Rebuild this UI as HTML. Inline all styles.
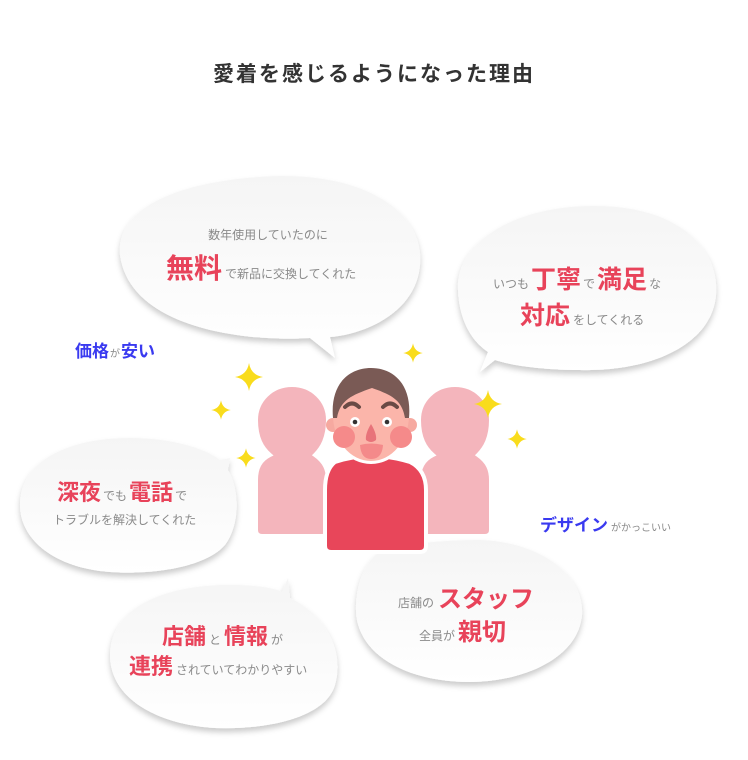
<!DOCTYPE html>
<html><head><meta charset="utf-8"><style>
html,body{margin:0;padding:0;background:#fff;}
svg{display:block;font-family:"Liberation Sans","Noto Sans CJK JP",sans-serif;}
.g{fill:#8a8a8a;font-size:12px;}
.r{fill:#e8435a;font-weight:bold;}
.b{fill:#3a3af0;font-weight:bold;}
</style></head><body>
<svg width="748" height="760" viewBox="0 0 748 760" xmlns="http://www.w3.org/2000/svg">
<defs>
<filter id="sh" x="-20%" y="-20%" width="140%" height="150%">
<feDropShadow dx="0" dy="4" stdDeviation="3" flood-color="#000" flood-opacity="0.2"/>
</filter>
<linearGradient id="bg" x1="0" y1="0" x2="0" y2="1">
<stop offset="0" stop-color="#f5f5f5"/><stop offset="1" stop-color="#ffffff"/>
</linearGradient>
<path id="star" d="M0,-14 Q2,-2 14,0 Q2,2 0,14 Q-2,2 -14,0 Q-2,-2 0,-14Z"/>
</defs>
<text x="374" y="81" text-anchor="middle" font-size="21" fill="#333" font-weight="bold" letter-spacing="2">愛着を感じるようになった理由</text>

<g filter="url(#sh)" fill="url(#bg)">
<path d="M120,255 C115,200 200,178 280,176 C370,175 425,215 420,265 C416,315 360,335 330,337 L335,358 L310,338 C250,342 130,330 120,255Z"/>
<path d="M458,290 C455,240 520,205 595,206 C680,206 720,250 716,295 C712,345 650,372 580,370 C540,370 510,365 495,360 L480,372 L488,352 C470,340 459,318 458,290Z"/>
<path d="M20,505 C20,460 70,438 130,438 C170,438 205,448 220,460 L230,458 L228,470 C240,490 240,525 225,545 C205,568 150,575 110,572 C55,568 20,540 20,505Z"/>
<path d="M110,655 C110,610 160,585 230,585 C255,585 275,588 282,592 L288,578 L290,598 C325,615 345,650 335,685 C325,720 260,730 215,728 C160,725 110,700 110,655Z"/>
<path d="M356,610 C356,570 375,552 387,548 L388,542 L398,548 C420,542 450,540 480,540 C540,542 585,575 582,615 C578,660 520,682 470,682 C400,682 356,650 356,610Z"/>
</g>

<text x="268" y="239" text-anchor="middle" class="g">数年使用していたのに</text>
<text x="166" y="278"><tspan class="r" font-size="28">無料</tspan><tspan class="g" dx="3">で新品に交換してくれた</tspan></text>

<text x="493" y="288"><tspan class="g">いつも</tspan><tspan class="r" font-size="25" dx="2">丁寧</tspan><tspan class="g" dx="2">で</tspan><tspan class="r" font-size="25" dx="2">満足</tspan><tspan class="g" dx="2">な</tspan></text>
<text x="520" y="324"><tspan class="r" font-size="25">対応</tspan><tspan class="g" dx="3">をしてくれる</tspan></text>

<text x="57" y="500"><tspan class="r" font-size="22">深夜</tspan><tspan class="g" dx="2">でも</tspan><tspan class="r" font-size="22" dx="2">電話</tspan><tspan class="g" dx="2">で</tspan></text>
<text x="53" y="524" class="g">トラブルを解決してくれた</text>

<text x="162" y="644"><tspan class="r" font-size="22">店舗</tspan><tspan class="g" dx="3">と</tspan><tspan class="r" font-size="22" dx="3">情報</tspan><tspan class="g" dx="3">が</tspan></text>
<text x="129" y="674"><tspan class="r" font-size="22">連携</tspan><tspan class="g" dx="3">されていてわかりやすい</tspan></text>

<text x="398" y="607"><tspan class="g">店舗の</tspan><tspan class="r" font-size="24" dx="4">スタッフ</tspan></text>
<text x="419" y="640"><tspan class="g">全員が</tspan><tspan class="r" font-size="24" dx="3">親切</tspan></text>

<text x="75" y="357"><tspan class="b" font-size="17">価格</tspan><tspan fill="#888" font-size="10" dx="1">が</tspan><tspan class="b" font-size="17" dx="1">安い</tspan></text>
<text x="540" y="531"><tspan class="b" font-size="17">デザイン</tspan><tspan fill="#888" font-size="10" dx="3">がかっこいい</tspan></text>

<g fill="#f4b5bc" stroke="#fff" stroke-width="4">
<path d="M292,385 C312,385 328,400 328,420 C328,438 322,448 315,455 C325,462 328,470 328,480 L328,530 Q328,536 322,536 L262,536 Q256,536 256,530 L256,480 C256,468 260,460 270,455 C262,448 256,438 256,420 C256,400 272,385 292,385Z"/>
<path d="M455,385 C475,385 491,400 491,420 C491,438 485,448 478,455 C488,462 491,470 491,480 L491,530 Q491,536 485,536 L425,536 Q419,536 419,530 L419,480 C419,468 423,460 433,455 C425,448 419,438 419,420 C419,400 435,385 455,385Z"/>
</g>
<path d="M335,462 Q371,450 410,462 Q426,470 426,490 L426,546 Q426,552 420,552 L331,552 Q325,552 325,546 L325,490 Q325,470 335,462Z" fill="#e8465a" stroke="#fff" stroke-width="4"/>
<ellipse cx="371" cy="415" rx="42" ry="49" fill="#fff"/>
<circle cx="333" cy="425" r="7" fill="#f6a9a0"/>
<circle cx="410" cy="425" r="7" fill="#f6a9a0"/>
<ellipse cx="371" cy="415" rx="38" ry="46" fill="#fbb5aa"/>
<path d="M333,418 C330,385 348,368 371,368 C394,368 412,385 409,418 L405,418 C402,400 392,395 372,388 C352,395 340,400 337,418Z" fill="#7a5a55"/>
<path d="M345,407 Q352,400 359,407" stroke="#6a4a45" stroke-width="4" fill="none" stroke-linecap="round"/>
<path d="M383,407 Q390,400 397,407" stroke="#6a4a45" stroke-width="4" fill="none" stroke-linecap="round"/>
<circle cx="355" cy="422" r="5" fill="#fff"/><circle cx="355" cy="422" r="2.3" fill="#333"/>
<circle cx="387" cy="422" r="5" fill="#fff"/><circle cx="387" cy="422" r="2.3" fill="#333"/>
<path d="M371,424 Q377,434 376,440 Q371,444 366,440 Q365,434 371,424Z" fill="#e8737a"/>
<circle cx="344" cy="437" r="11" fill="#f58a8a"/>
<circle cx="401" cy="437" r="11" fill="#f58a8a"/>
<path d="M360,445 Q371,442 383,445 Q382,459 371,459 Q361,459 360,445Z" fill="#f48a8a"/>

<g fill="#f9dc1c">
<use href="#star" transform="translate(249,377)"/>
<use href="#star" transform="translate(221,410) scale(0.7)"/>
<use href="#star" transform="translate(246,458) scale(0.7)"/>
<use href="#star" transform="translate(413,353) scale(0.7)"/>
<use href="#star" transform="translate(488,404)"/>
<use href="#star" transform="translate(517,439) scale(0.7)"/>
</g>
</svg>
</body></html>
